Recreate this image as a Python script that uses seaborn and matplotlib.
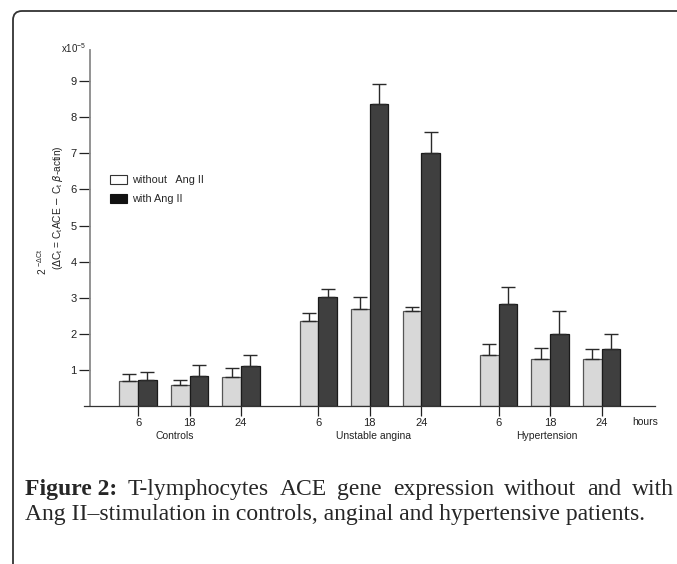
import matplotlib

matplotlib.use('Agg')

import matplotlib.pyplot as plt
import matplotlib.patches as mpatches
from matplotlib.transforms import IdentityTransform
import seaborn as sns
import numpy as np
import pandas as pd


groups = ['Controls', 'Unstable angina', 'Hypertension']
hours = ['6', '18', '24']
conditions = ['without   Ang II', 'with Ang II']

without_ang = [0.69, 0.57, 0.79, 2.35, 2.70, 2.63, 1.42, 1.29, 1.29]
without_err = [0.20, 0.14, 0.25, 0.22, 0.33, 0.11, 0.30, 0.31, 0.28]
with_ang = [0.72, 0.82, 1.10, 3.03, 8.36, 7.02, 2.83, 2.00, 1.57]
with_err = [0.23, 0.31, 0.30, 0.20, 0.56, 0.56, 0.46, 0.63, 0.43]

W, H = 677, 564


def px(x, y):
    return x / W, 1 - y / H


sns.set_style('white')
plt.rcParams['font.family'] = ['Liberation Sans', 'DejaVu Sans']

# slot position of every pair, with a wider gap between groups
pos = [gi * 3.5 + hi for gi in range(len(groups)) for hi in range(len(hours))]

df = pd.DataFrame({
    'pos': pos * 2,
    'value': without_ang + with_ang,
    'cond': [conditions[0]] * len(pos) + [conditions[1]] * len(pos),
})

fig = plt.figure(
    figsize=(W / 100, H / 100),
    dpi=100,
)

left, right, bottom, top = 84, 655, 406, 50

ax = fig.add_axes([
    left / W,
    (H - bottom) / H,
    (right - left) / W,
    (bottom - top) / H,
])

sns.barplot(
    data=df,
    x='pos',
    y='value',
    hue='cond',
    hue_order=conditions,
    palette=['#d8d8d8', '#3f3f3f'],
    native_scale=True,
    width=0.72,
    errorbar=None,
    legend=False,
    ax=ax,
)

edges = ['#555555', '#1a1a1a']

for container, err, ec in zip(ax.containers, [without_err, with_err], edges):

    bars = sorted(container.patches, key=lambda p: p.get_x())

    for b in bars:
        b.set_edgecolor(ec)
        b.set_linewidth(0.9)

    xs = [b.get_x() + b.get_width() / 2 for b in bars]
    ys = [b.get_height() for b in bars]

    ax.errorbar(
        xs,
        ys,
        yerr=[np.zeros(len(err)), err],
        fmt='none',
        ecolor='#2a2a2a',
        elinewidth=1.0,
        capsize=4.7,
        capthick=1.0,
        zorder=1,
    )

unit = 51.5
ax.set_xlim((left - 138) / unit, (right - 138) / unit)
ax.set_ylim(0, (bottom - top) / 36.1)

ax.set_xticks(pos)
ax.set_xticklabels(hours * len(groups))
ax.set_yticks(range(1, 10))
ax.set_yticklabels([str(v) for v in range(1, 10)])

ax.tick_params(axis='x', direction='out', length=7.5, width=0.9, pad=1.5,
               colors='#222222', labelsize=8, bottom=True)
ax.tick_params(axis='y', direction='out', length=8, width=0.9, pad=1.5,
               colors='#222222', labelsize=8, left=True)

ax.set_xlabel('')
ax.set_ylabel('')

for side in ['top', 'right']:
    ax.spines[side].set_visible(False)

ax.spines['left'].set_position(('axes', 6 / (right - left)))
ax.spines['left'].set_color('#8a8a8a')
ax.spines['left'].set_linewidth(1.3)
ax.spines['bottom'].set_color('#333333')
ax.spines['bottom'].set_linewidth(0.9)

label_shift = [-0.28, 0.08, -0.06]
for gi, name in enumerate(groups):
    ax.text(
        gi * 3.5 + 1 + label_shift[gi],
        -0.0855,
        name,
        transform=ax.get_xaxis_transform(),
        ha='center',
        va='center',
        fontsize=7.5,
        color='#222222',
    )

fig.text(*px(645, 422), 'hours', ha='center', va='center', fontsize=7.5, color='#222222')

fig.text(*px(74, 48), r'x10$^{\mathregular{-5}}$', ha='center', va='center', fontsize=7, color='#222222')

fig.text(
    *px(42, 262),
    r'2 $^{\mathregular{-\Delta Ct}}$',
    rotation=90,
    ha='center',
    va='center',
    fontsize=7.3,
    color='#222222',
)

fig.text(
    *px(58, 208),
    r'($\Delta$C$_{\mathregular{t}}$ = C$_{\mathregular{t}}$ACE $-$ C$_{\mathregular{t}}$ $\beta$-actin)',
    rotation=90,
    ha='center',
    va='center',
    fontsize=7.3,
    color='#222222',
)

handles = [
    mpatches.Patch(facecolor='white', edgecolor='#333333', linewidth=0.8, label=conditions[0]),
    mpatches.Patch(facecolor='#111111', edgecolor='#111111', linewidth=0.8, label=conditions[1]),
]

fig.legend(
    handles=handles,
    loc='upper left',
    bbox_to_anchor=px(110, 175),
    frameon=False,
    borderpad=0,
    borderaxespad=0,
    fontsize=7.8,
    handlelength=1.55,
    handleheight=0.95,
    handletextpad=0.45,
    labelspacing=0.75,
)

# page frame with the rounded corner
frame = mpatches.FancyBboxPatch(
    (13, -60),
    W + 60,
    H - 11 + 60,
    boxstyle='round,pad=0,rounding_size=9',
    transform=IdentityTransform(),
    facecolor='none',
    edgecolor='#333333',
    linewidth=1.3,
)
fig.add_artist(frame)

# caption, first line justified
serif = ['Liberation Serif', 'DejaVu Serif']
cap_size = 17
renderer = fig.canvas.get_renderer()

line1 = [('Figure 2:', 'bold')] + [
    (w, 'normal') for w in 'T-lymphocytes ACE gene expression without and with'.split()
]

items = []
for word, weight in line1:
    t = fig.text(0, 0, word, family=serif, fontweight=weight, fontsize=cap_size, va='baseline')
    items.append(t)

widths = [t.get_window_extent(renderer).width for t in items]
x0, x1 = 25, 674
gap = (x1 - x0 - sum(widths)) / (len(items) - 1)

x = x0
for t, w in zip(items, widths):
    t.set_position(px(x, 495))
    x += w + gap

fig.text(
    *px(25, 520),
    'Ang II\u2013stimulation in controls, anginal and hypertensive patients.',
    family=serif,
    fontsize=cap_size,
    va='baseline',
)

fig.savefig('out.png', dpi=100)
plt.close()
